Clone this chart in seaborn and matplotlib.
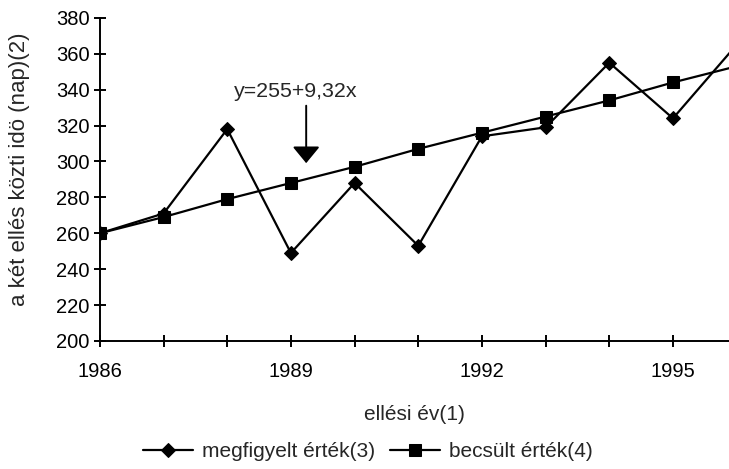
import matplotlib
matplotlib.use("Agg")
import matplotlib.pyplot as plt
import seaborn as sns
import pandas as pd

years = [1986, 1987, 1988, 1989, 1990, 1991, 1992, 1993, 1994, 1995, 1996]
observed = [260, 271, 318, 249, 288, 253, 314, 319, 355, 324, 365]
estimated = [260, 269, 279, 288, 297, 307, 316, 325, 334, 344, 353]
label_obs = "megfigyelt érték(3)"
label_est = "becsült érték(4)"
xtick_labels = [1986, 1989, 1992, 1995]
yticks = list(range(200, 381, 20))

sns.set_theme(style="white")
plt.rcParams['font.family'] = ['Liberation Sans', 'DejaVu Sans']

df = pd.DataFrame({"year": years, "obs": observed, "est": estimated})

fig = plt.figure(figsize=(7.29, 4.69), dpi=100)
ax = fig.add_axes([0.137, 0.273, 0.863, 0.689])

sns.lineplot(data=df, x="year", y="obs", ax=ax, color="black", marker="D",
             markersize=7, linewidth=1.6, label=label_obs, markeredgecolor="black")
sns.lineplot(data=df, x="year", y="est", ax=ax, color="black", marker="s",
             markersize=9, linewidth=1.6, label=label_est, markeredgecolor="black")

ax.set_xlim(1986, 1995.88)
ax.set_ylim(200, 380)
ax.set_yticks(yticks)
ax.set_xticks(years[:-1])
ax.set_xticklabels([str(y) if y in xtick_labels else "" for y in years[:-1]])
for s in ["top", "right"]:
    ax.spines[s].set_visible(False)
for s in ["left", "bottom"]:
    ax.spines[s].set_color("black")
    ax.spines[s].set_linewidth(1.4)
ax.tick_params(axis="both", direction="inout", length=8.5, width=1.4, colors="black",
               labelsize=14.5, left=True, bottom=True)
ax.tick_params(axis="x", pad=11)
ax.tick_params(axis="y", pad=3)

ax.set_xlabel("ellési év(1)", fontsize=15)
ax.xaxis.set_label_coords(0.5, -0.198)
ax.set_ylabel("a két ellés közti idö (nap)(2)", fontsize=16)
ax.yaxis.set_label_coords(-0.127, 0.532)
ax.yaxis.label.set_va("center")

ax.annotate("", xy=(1989.24, 297.5), xytext=(1989.24, 332.6),
            arrowprops=dict(arrowstyle="-|>,head_length=0.85,head_width=0.7",
                            color="black", lw=1.4))
ax.text(1989.08, 338.8, "y=255+9,32x", fontsize=15.4, ha="center", va="center")

ax.legend(loc="center", bbox_to_anchor=(0.426, -0.342), ncol=2, frameon=False,
          fontsize=15, handlelength=2.4, columnspacing=0.7, handletextpad=0.45)

fig.savefig("out.png", dpi=100)
